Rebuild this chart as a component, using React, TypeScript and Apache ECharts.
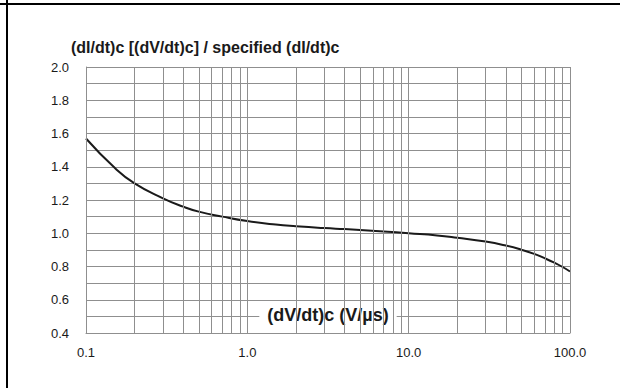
import React, { useEffect, useRef } from "react";
import * as echarts from "echarts";

const xValues = [0.1, 0.15, 0.2, 0.3, 0.4, 0.5, 0.7, 1, 1.5, 2, 3, 4, 5, 7, 10, 15, 20, 30, 40, 50, 60, 70, 80, 90, 100];
const yValues = [1.57, 1.395, 1.3, 1.21, 1.16, 1.13, 1.1, 1.073, 1.052, 1.042, 1.031, 1.025, 1.02, 1.011, 1.0, 0.987, 0.973, 0.95, 0.926, 0.901, 0.876, 0.849, 0.823, 0.797, 0.77];
const verticalGridValues = [
  0.1, 0.2, 0.3, 0.4, 0.5, 0.6, 0.7, 0.8, 0.9,
  1, 2, 3, 4, 5, 6, 7, 8, 9,
  10, 20, 30, 40, 50, 60, 70, 80, 90, 100,
];
const titleText = "(dI/dt)c [(dV/dt)c] / specified (dI/dt)c";
const xAxisName = "(dV/dt)c (V/µs)";

const FONT = '"Liberation Sans", Arial, Helvetica, sans-serif';
const GRID_COLOR = "#8f8f8f";
const TEXT_COLOR = "#1a1a1a";

export default function App() {
  const ref = useRef<HTMLDivElement>(null);
  useEffect(() => {
    if (!ref.current) return;
    const chart = echarts.init(ref.current, null, { renderer: "svg" });
    chart.setOption({
      animation: false,
      backgroundColor: "#ffffff",
      textStyle: { fontFamily: FONT },
      title: {
        text: titleText,
        left: 71,
        top: 39,
        padding: 0,
        textStyle: { fontFamily: FONT, fontSize: 16, fontWeight: "bold", color: TEXT_COLOR },
      },
      grid: { left: 86, right: 50, top: 67, bottom: 55, outerBoundsMode: "none", containLabel: false },
      xAxis: {
        type: "log",
        logBase: 10,
        min: 0.1,
        max: 100,
        z: 3,
        name: xAxisName,
        nameLocation: "middle",
        nameGap: -18,
        nameMoveOverlap: false,
        nameTextStyle: {
          fontFamily: FONT,
          fontSize: 18,
          fontWeight: "bold",
          color: TEXT_COLOR,
          verticalAlign: "middle",
          backgroundColor: "#ffffff",
          padding: [5, 8],
        },
        axisLine: { show: true, lineStyle: { color: GRID_COLOR, width: 1 } },
        axisTick: { show: false },
        splitLine: { show: false },
        axisLabel: {
          margin: 13,
          fontSize: 13,
          color: TEXT_COLOR,
          fontFamily: FONT,
          formatter: (v: number) => v.toFixed(1),
        },
      },
      yAxis: {
        type: "value",
        min: 0.4,
        max: 2.0,
        interval: 0.1,
        z: 0,
        axisLine: { show: true, lineStyle: { color: GRID_COLOR, width: 1 } },
        axisTick: { show: false },
        splitLine: { show: true, lineStyle: { color: GRID_COLOR, width: 1 } },
        axisLabel: {
          margin: 17,
          fontSize: 13,
          color: TEXT_COLOR,
          fontFamily: FONT,
          formatter: (v: number) => (Math.round(v * 10) % 2 === 0 ? v.toFixed(1) : ""),
        },
      },
      graphic: [
        { type: "line", shape: { x1: 0, y1: 4, x2: 620, y2: 4 }, style: { stroke: "#000", lineWidth: 2 } },
        { type: "line", shape: { x1: 7, y1: 0, x2: 7, y2: 388 }, style: { stroke: "#000", lineWidth: 2 } },
      ],
      series: [
        {
          type: "line",
          z: 1,
          data: [],
          silent: true,
          markLine: {
            silent: true,
            symbol: "none",
            label: { show: false },
            lineStyle: { color: GRID_COLOR, width: 1, type: "solid" },
            data: verticalGridValues.map((v) => ({ xAxis: v })),
          },
        },
        {
          type: "line",
          z: 2,
          data: xValues.map((x, i) => [x, yValues[i]]),
          smooth: 0.5,
          showSymbol: false,
          symbol: "none",
          lineStyle: { color: "#1a1a1a", width: 2 },
        },
      ],
    });
    return () => chart.dispose();
  }, []);
  return (
    <div
      ref={ref}
      style={{ position: "fixed", left: 0, top: 0, width: 620, height: 388 }}
    />
  );
}
